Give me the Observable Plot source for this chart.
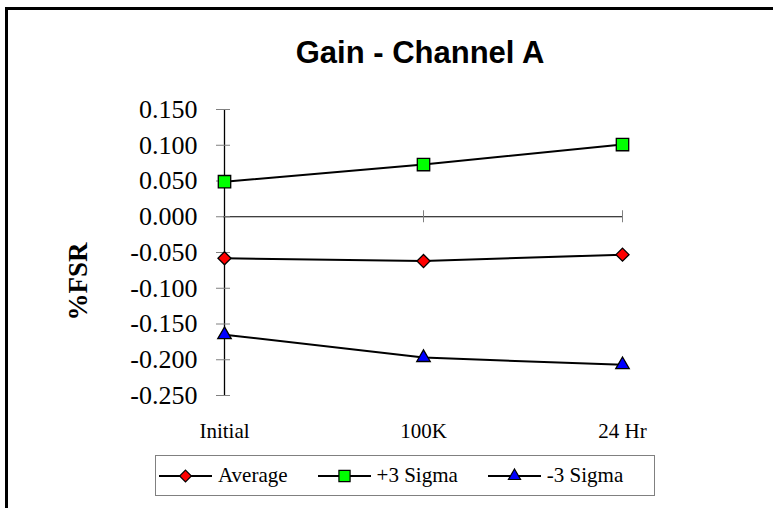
<!DOCTYPE html>
<html>
<head>
<meta charset="utf-8">
<script src="https://cdn.jsdelivr.net/npm/d3@7"></script>
<script src="https://cdn.jsdelivr.net/npm/@observablehq/plot@0.6"></script>
<style>
  html, body { margin: 0; padding: 0; background: #fff; overflow: hidden; }
  #wrap { position: relative; width: 773px; height: 508px; overflow: hidden; background: #fff; }
  #frame { position: absolute; left: 5px; top: 7px; width: 800px; height: 600px; border-left: 3px solid #000; border-top: 3px solid #000; box-sizing: border-box; pointer-events: none; }
  #title { height: 71px; box-sizing: border-box; padding-top: 37px; padding-left: 67px; text-align: center;
           font: bold 31px/31px "Liberation Sans", Arial, sans-serif; color: #000; }
  #chart svg { display: block; }
  #legend { position: absolute; left: 155px; top: 455px; width: 500px; height: 41px; box-sizing: border-box;
            border: 1px solid #808080; display: flex; align-items: center; padding-left: 3px;
            font: 21px "Liberation Serif", "Times New Roman", serif; color: #000; }
  .item { display: flex; align-items: center; margin-right: 30px; }
  .item svg { display: block; margin-right: 6px; }
  g[aria-label="y-axis tick label"] { font-size: 26px; }
  g[aria-label="x-axis tick label"] { font-size: 21px; }
</style>
</head>
<body>
<div id="wrap">
  <div id="title">Gain - Channel A</div>
  <div id="chart"></div>
  <div id="legend"></div>
  <div id="frame"></div>
</div>
<script>
// ---- data ----
const categories = ["Initial", "100K", "24 Hr"];
const seriesNames = ["Average", "+3 Sigma", "-3 Sigma"];
const average = [-0.058, -0.062, -0.053];
const plus3Sigma = [0.049, 0.073, 0.101];
const minus3Sigma = [-0.165, -0.197, -0.207];
const yTicks = [0.15, 0.1, 0.05, 0, -0.05, -0.1, -0.15, -0.2, -0.25];

// ---- styles ----
const seriesColors = ["#ff0000", "#00ff00", "#0000ff"];
const seriesSymbols = ["diamond2", "square", "triangle"];
const seriesR = [5.9, 7.0, 5.0];

const seriesValues = [average, plus3Sigma, minus3Sigma];
const rows = seriesValues.flatMap((vals, i) =>
  vals.map((v, j) => ({series: seriesNames[i], cat: categories[j], value: v})));

const fmt = d => d.toFixed(3);

const chart = Plot.plot({
  width: 773,
  height: 372,
  marginLeft: 223,
  marginRight: 151,
  marginTop: 38,
  marginBottom: 48,
  style: {fontFamily: "'Liberation Serif', 'Times New Roman', serif", color: "#000", background: "transparent"},
  x: {type: "point", domain: categories, padding: 0, axis: null},
  y: {domain: [-0.25, 0.15], axis: null},
  marks: [
    // horizontal zero line (category axis crosses at 0)
    Plot.ruleY([0], {stroke: "#000", strokeWidth: 1}),
    // category tick marks crossing zero line
    Plot.ruleX(categories, {x: d => d, y1: () => 0, y2: () => 0, insetTop: -6, insetBottom: -6, stroke: "#808080", strokeWidth: 1}),
    // value axis line
    Plot.ruleX([categories[0]], {x: d => d, y1: () => -0.25, y2: () => 0.15, stroke: "#000", strokeWidth: 1.3}),
    // value axis cross ticks
    Plot.axisY(yTicks, {tickSize: 14, dx: 7, tickFormat: () => "", label: null, stroke: "#808080"}),
    // value axis labels
    Plot.axisY(yTicks, {tickSize: 0, tickPadding: 26, tickFormat: fmt, label: null, fontSize: 26}),
    // category labels
    Plot.axisX(categories, {anchor: "bottom", tickSize: 0, tickPadding: 28, label: null, fontSize: 21}),
    // axis title
    Plot.text(["%FSR"], {text: d => d, frameAnchor: "left", rotate: -90, dx: -145, dy: 29,
      fontWeight: "bold", fontSize: 27, textAnchor: "middle", lineAnchor: "middle"}),
    // series lines
    Plot.line(rows, {x: "cat", y: "value", z: "series", stroke: "#000", strokeWidth: 2}),
    // series markers
    ...seriesNames.map((name, i) =>
      Plot.dot(rows.filter(d => d.series === name), {
        x: "cat", y: "value", symbol: seriesSymbols[i], fill: seriesColors[i],
        stroke: "#000", strokeWidth: 1.3, r: seriesR[i]
      }))
  ]
});
document.getElementById("chart").appendChild(chart);

// ---- legend ----
const symbolTypes = {diamond2: d3.symbolDiamond2, square: d3.symbolSquare, triangle: d3.symbolTriangle};
const legend = d3.select("#legend");
seriesNames.forEach((name, i) => {
  const item = legend.append("div").attr("class", "item");
  const sw = item.append("svg").attr("width", 53).attr("height", 20);
  sw.append("line").attr("x1", 0).attr("x2", 53).attr("y1", 10).attr("y2", 10)
    .attr("stroke", "#000").attr("stroke-width", 2);
  const r = seriesR[i] * 0.9;
  sw.append("path").attr("transform", "translate(26.5,10)")
    .attr("d", d3.symbol(symbolTypes[seriesSymbols[i]], Math.PI * r * r)())
    .attr("fill", seriesColors[i]).attr("stroke", "#000").attr("stroke-width", 1.2);
  item.append("span").text(name);
});
</script>
</body>
</html>
